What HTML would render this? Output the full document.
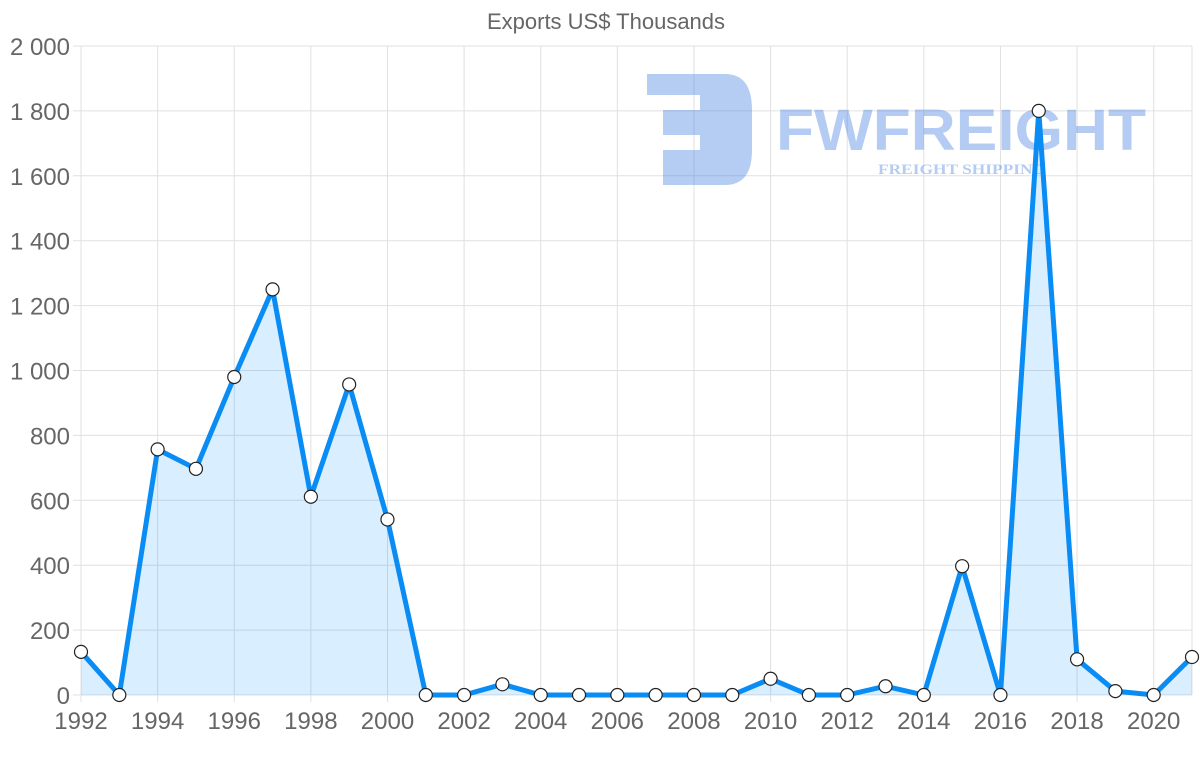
<!DOCTYPE html>
<html><head><meta charset="utf-8"><style>
html,body{margin:0;padding:0;background:#fff;}
svg{display:block;font-family:"Liberation Sans",sans-serif;}
</style></head><body>
<svg id="c" width="1200" height="763" viewBox="0 0 1200 763" xmlns="http://www.w3.org/2000/svg">
<text x="606" y="29" font-size="22" fill="#666" text-anchor="middle">Exports US$ Thousands</text>
<g id="grid"></g>
<g opacity="0.38" fill="#3d7be0">
<path d="M647 74 H725 Q752 74 752 110 V150 Q752 185 725 185 H663 V150 H700 V135 H663 V110 H700 V95 H647 Z"/>
<text x="776" y="150" font-size="58" font-weight="bold" textLength="370" lengthAdjust="spacingAndGlyphs">FWFREIGHT</text>
<text x="878" y="174" font-size="15" font-weight="bold" font-family="Liberation Serif,serif" textLength="168" lengthAdjust="spacingAndGlyphs">FREIGHT SHIPPING</text>
</g>
<g id="data"></g>
</svg>
<script>
var v=[133,0,757,697,980,1250,611,957,541,0,0,33,0,0,0,0,0,0,50,0,0,27,0,397,0,1800,110,12,0,117];
var X=function(i){return 81+i*(1111/29)},Y=function(d){return 695-d*649/2000};
var g='',i;
for(i=0;i<=10;i++){var y=Y(i*200);g+='<line x1="73" x2="1192" y1="'+y+'" y2="'+y+'" stroke="#e0e0e0"/>';
var lab=(i*200>=1000)?(Math.floor(i*200/1000)+' '+String(i*200%1000).padStart(3,'0')):String(i*200);
g+='<text x="70" y="'+(y+9)+'" font-size="24" fill="#666" text-anchor="end">'+lab+'</text>';}
for(i=0;i<30;i+=2){var x=X(i);g+='<line x1="'+x+'" x2="'+x+'" y1="46" y2="702" stroke="#e0e0e0"/>';
g+='<text x="'+x+'" y="729" font-size="24" fill="#666" text-anchor="middle">'+(1992+i)+'</text>';}
g+='<line x1="1192" x2="1192" y1="46" y2="695" stroke="#e0e0e0"/>';
document.getElementById('grid').innerHTML=g;
var p='',d='';
for(i=0;i<30;i++){p+=(i?' L':'M')+X(i)+' '+Y(v[i]);}
d='<path d="'+p+' L'+X(29)+' 695 L81 695 Z" fill="rgba(0,140,255,0.15)"/>';
d+='<path d="'+p+'" fill="none" stroke="#0a8cf5" stroke-width="5" stroke-linejoin="round"/>';
for(i=0;i<30;i++)d+='<circle cx="'+X(i)+'" cy="'+Y(v[i])+'" r="6.5" fill="#fff" stroke="#222" stroke-width="1.2"/>';
document.getElementById('data').innerHTML=d;
</script>
</body></html>
